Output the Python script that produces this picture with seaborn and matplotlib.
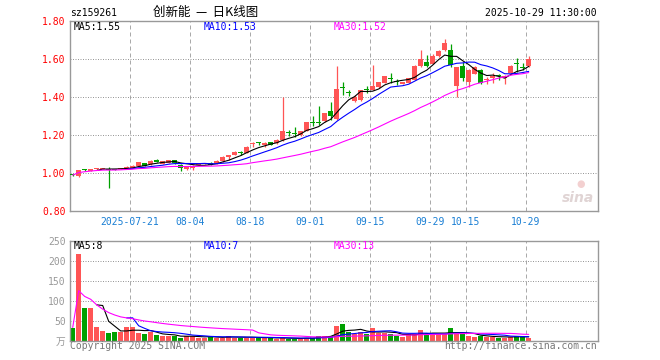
import numpy as np
import pandas as pd
import matplotlib
matplotlib.use("Agg")
import matplotlib.pyplot as plt
import seaborn as sns

# 日K数据: 2025-07-07 .. 2025-10-29 (77个交易日)
opens = [0.993, 0.987, 1.019, 1.012, 1.024, 1.022, 1.022, 1.021, 1.022, 1.026,
         1.030, 1.040, 1.052, 1.047, 1.072, 1.050, 1.056, 1.070, 1.045, 1.021,
         1.026, 1.045, 1.048, 1.056, 1.053, 1.063, 1.084, 1.096, 1.106, 1.108,
         1.156, 1.160, 1.150, 1.162, 1.158, 1.175, 1.212, 1.207, 1.200, 1.222,
         1.268, 1.267, 1.274, 1.328, 1.284, 1.449, 1.423, 1.377, 1.386, 1.440,
         1.438, 1.453, 1.474, 1.498, 1.481, 1.470, 1.474, 1.491, 1.561, 1.582,
         1.574, 1.614, 1.645, 1.649, 1.461, 1.561, 1.480, 1.523, 1.544, 1.489,
         1.500, 1.511, 1.500, 1.526, 1.576, 1.555, 1.565]
highs = [0.997, 1.018, 1.022, 1.024, 1.030, 1.030, 1.035, 1.024, 1.030, 1.037,
         1.044, 1.060, 1.055, 1.067, 1.075, 1.064, 1.072, 1.072, 1.048, 1.040,
         1.042, 1.054, 1.054, 1.058, 1.068, 1.088, 1.098, 1.116, 1.118, 1.142,
         1.162, 1.165, 1.162, 1.165, 1.178, 1.400, 1.228, 1.242, 1.224, 1.270,
         1.300, 1.353, 1.318, 1.372, 1.566, 1.477, 1.436, 1.410, 1.440, 1.456,
         1.570, 1.481, 1.511, 1.526, 1.496, 1.482, 1.502, 1.567, 1.645, 1.623,
         1.626, 1.647, 1.705, 1.680, 1.560, 1.587, 1.546, 1.561, 1.548, 1.508,
         1.526, 1.520, 1.517, 1.567, 1.605, 1.580, 1.617]
lows = [0.985, 0.982, 1.012, 1.010, 1.018, 1.020, 0.924, 1.015, 1.020, 1.024,
        1.028, 1.038, 1.038, 1.045, 1.058, 1.048, 1.054, 1.050, 1.014, 1.018,
        1.016, 1.043, 1.046, 1.042, 1.050, 1.060, 1.070, 1.094, 1.096, 1.106,
        1.140, 1.150, 1.138, 1.148, 1.154, 1.172, 1.198, 1.190, 1.198, 1.220,
        1.249, 1.255, 1.270, 1.280, 1.280, 1.412, 1.405, 1.375, 1.377, 1.421,
        1.436, 1.450, 1.472, 1.474, 1.465, 1.468, 1.472, 1.489, 1.559, 1.556,
        1.572, 1.612, 1.643, 1.558, 1.400, 1.487, 1.453, 1.520, 1.470, 1.470,
        1.474, 1.491, 1.470, 1.524, 1.532, 1.540, 1.560]
closes = [0.990, 1.017, 1.017, 1.022, 1.026, 1.027, 1.018, 1.019, 1.026, 1.035,
          1.040, 1.057, 1.040, 1.065, 1.060, 1.062, 1.070, 1.053, 1.026, 1.038,
          1.040, 1.052, 1.052, 1.044, 1.063, 1.086, 1.096, 1.114, 1.104, 1.140,
          1.158, 1.158, 1.160, 1.150, 1.175, 1.222, 1.210, 1.205, 1.222, 1.268,
          1.266, 1.265, 1.316, 1.303, 1.442, 1.447, 1.421, 1.403, 1.438, 1.438,
          1.456, 1.479, 1.509, 1.496, 1.479, 1.480, 1.500, 1.565, 1.602, 1.561,
          1.614, 1.644, 1.684, 1.570, 1.558, 1.500, 1.544, 1.558, 1.474, 1.491,
          1.512, 1.509, 1.513, 1.565, 1.574, 1.553, 1.602]
# 成交量 (万)
volumes = [33, 217, 82, 82, 34, 25, 19, 22, 22, 34,
           34, 19, 17, 23, 14, 12, 12, 12, 7, 13,
           12, 8, 8, 10, 8, 8, 12, 8, 8, 8,
           8, 8, 7, 7, 5, 8, 5, 5, 5, 8,
           8, 12, 13, 13, 38, 43, 22, 17, 22, 17,
           32, 20, 20, 17, 12, 10, 17, 17, 27, 17,
           17, 17, 17, 32, 18, 17, 12, 10, 12, 10,
           10, 8, 8, 10, 13, 10, 8]

tick_idx = [10, 20, 30, 40, 50, 60, 66, 76]
tick_labels = ["2025-07-21", "08-04", "08-18", "09-01", "09-15", "09-29", "10-15", "10-29"]
price_ticks = [0.80, 1.00, 1.20, 1.40, 1.60, 1.80]
vol_ticks = [0, 50, 100, 150, 200, 250]
vol_tick_labels = ["万", "50", "100", "150", "200", "250"]

ma_price_text = ["MA5:1.55", "MA10:1.53", "MA30:1.52"]
ma_vol_text = ["MA5:8", "MA10:7", "MA30:13"]

RED = "#ff5555"
GREEN = "#00a000"
GRID = "#aaaaaa"
MA_COLORS = ["black", "#0000ff", "#ff00ff"]

df = pd.DataFrame({"open": opens, "high": highs, "low": lows,
                   "close": closes, "vol": volumes})
df["idx"] = np.arange(len(df))
df["up"] = df["close"] >= df["open"]
colors = np.where(df["up"], RED, GREEN)

# 均线: MA5/MA10 凑满才画, MA30 从第一天起用已有数据
def moving(s, n, full=True):
    return s.rolling(n, min_periods=n if full else 1).mean()

sns.set_style("white")
plt.rcParams["font.family"] = ["DejaVu Sans Mono", "Noto Sans CJK SC"]

W, H = 660, 360
fig = plt.figure(figsize=(6.6, 3.6), dpi=100)
ax = fig.add_axes([70 / W, 1 - 211.3 / H, 528 / W, 190.3 / H])
axv = fig.add_axes([70 / W, 1 - 340.7 / H, 528 / W, 100 / H])

xlim = (-0.45, 87.55)

for a in (ax, axv):
    a.set_xlim(*xlim)
    for sp in a.spines.values():
        sp.set_color("#999999")
        sp.set_linewidth(1)
    for t in tick_idx:
        a.axvline(t - 0.5, color=GRID, lw=0.72, ls=(0, (4, 3)), zorder=0)

# ---- K线 ----
ax.set_ylim(0.80, 1.80)
for p in price_ticks[1:-1]:
    ax.axhline(p, color="#999999", lw=0.72, ls=(0, (1, 1.5)), zorder=0)

ax.vlines(df["idx"], df["low"], df["high"], colors=colors, lw=0.9, zorder=2)
body_bottom = np.minimum(df["open"], df["close"])
body_h = np.maximum((df["close"] - df["open"]).abs(), 0.0055)
ax.bar(df["idx"], body_h, bottom=body_bottom, width=0.8, color=colors,
       linewidth=0, zorder=3)

for (n, full), c in zip([(5, True), (10, True), (30, False)], MA_COLORS):
    ma = moving(df["close"], n, full)
    sns.lineplot(x=df["idx"], y=ma, ax=ax, color=c, lw=0.8, zorder=4)

ax.set_yticks(price_ticks)
ax.set_yticklabels([f"{p:.2f}" for p in price_ticks])
ax.tick_params(axis="y", length=0, pad=3, labelsize=7, labelcolor="#ff0000")
ax.set_xticks([t - 0.5 for t in tick_idx])
ax.set_xticklabels(tick_labels)
ax.tick_params(axis="x", length=0, pad=4, labelsize=7, labelcolor="#1a7fd4")
ax.set_xlabel("")
ax.set_ylabel("")

# ---- 成交量 ----
axv.set_ylim(0, 250)
for v in vol_ticks[1:-1]:
    axv.axhline(v, color="#999999", lw=0.72, ls=(0, (1, 1.5)), zorder=0)
axv.bar(df["idx"], df["vol"], width=0.78, color=colors, linewidth=0, zorder=2)
for (n, full), c in zip([(5, True), (10, True), (30, False)], MA_COLORS):
    ma = moving(df["vol"], n, full)
    sns.lineplot(x=df["idx"], y=ma, ax=axv, color=c, lw=0.8, zorder=4)
axv.set_yticks(vol_ticks)
axv.set_yticklabels(vol_tick_labels)
axv.tick_params(axis="y", length=0, pad=3, labelsize=7, labelcolor="#999999")
axv.set_xticks([])
axv.set_xlabel("")
axv.set_ylabel("")

# ---- 文字 ----
def ftext(x, y, s, **kw):
    fig.text(x / W, 1 - y / H, s, va="center", **kw)

ftext(70, 13, "sz159261", fontsize=7, color="black")
ftext(206, 12.5, "创新能  —  日K线图", fontsize=9, color="black", ha="center",
      family=["Noto Sans CJK SC", "DejaVu Sans"])
ftext(597, 13, "2025-10-29 11:30:00", fontsize=7, color="black", ha="right")

for x0, s, c in zip([74, 204, 334], ma_price_text, MA_COLORS):
    ftext(x0, 26.5, s, fontsize=7, color=c)
for x0, s, c in zip([74, 204, 334], ma_vol_text, MA_COLORS):
    ftext(x0, 246, s, fontsize=7, color=c)

ftext(70, 346, "Copyright 2025 SINA.COM", fontsize=7, color="#777777")
ftext(597, 346, "http://finance.sina.com.cn", fontsize=7, color="#777777", ha="right")

# 新浪水印
ftext(578, 198, "sina", fontsize=10, color="#e0d4d4", ha="center",
      fontweight="bold", fontstyle="italic", family=["DejaVu Sans"])
ftext(581, 184, "●", fontsize=7, color="#f3d0d0", ha="center", family=["DejaVu Sans"])

fig.savefig("out.png", dpi=100)
